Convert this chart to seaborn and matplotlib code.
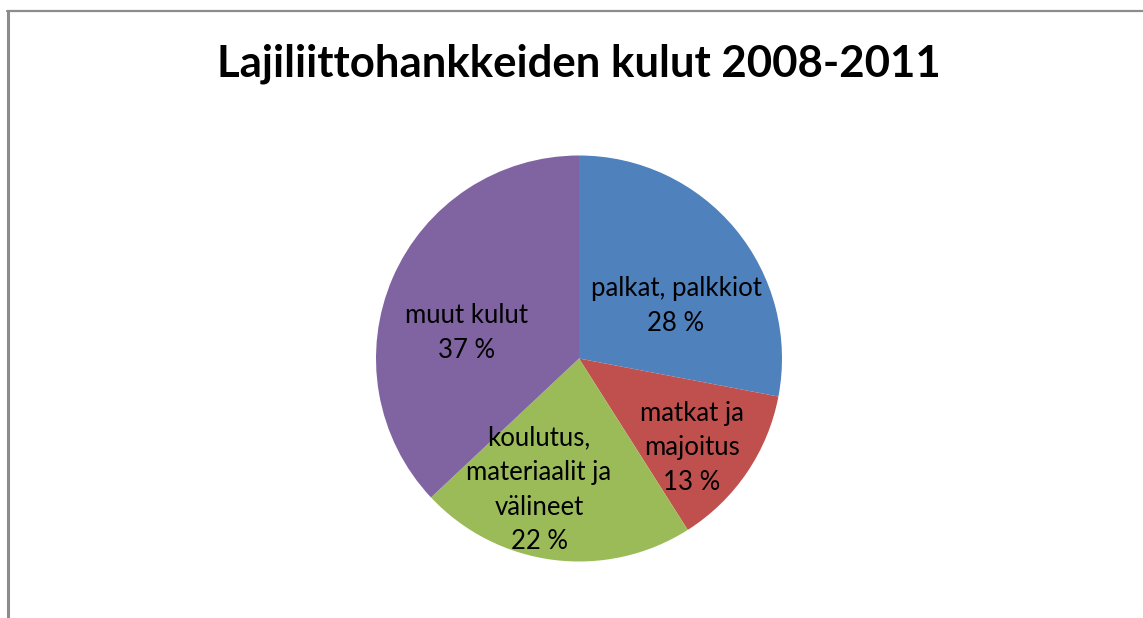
import matplotlib
matplotlib.use("Agg")
import matplotlib.pyplot as plt
import seaborn as sns
from matplotlib.lines import Line2D

sns.set_theme(style="white")
plt.rcParams['font.family'] = ['Lato', 'DejaVu Sans']

# Data
categories = ["palkat, palkkiot", "matkat ja\nmajoitus", "koulutus,\nmateriaalit ja\nvälineet", "muut kulut"]
shares = [28, 13, 22, 37]
title = "Lajiliittohankkeiden kulut 2008-2011"

colors = ["#4F81BD", "#C0504D", "#9BBB59", "#8064A2"]
# label anchor positions inside the pie (relative to radius 1)
label_pos = [(0.478, 0.258), (0.557, -0.44), (-0.197, -0.648), (-0.552, 0.126)]

W, H = 1143, 618
fig = plt.figure(figsize=(W / 100, H / 100), dpi=100)
fig.patch.set_facecolor("white")

cx, cy, r = 579, 358.5, 203
ax = fig.add_axes([(cx - r) / W, (H - cy - r) / H, 2 * r / W, 2 * r / H])
ax.pie(shares, colors=colors, startangle=90, counterclock=False, radius=1,
       wedgeprops=dict(linewidth=0))
ax.set_xlim(-1, 1)
ax.set_ylim(-1, 1)
ax.set_aspect("auto")
ax.axis("off")

for cat, val, (x, y) in zip(categories, shares, label_pos):
    ax.text(x, y, f"{cat}\n{val} %", ha="center", va="center", fontsize=18.5,
            color="black", linespacing=1.48)

fig.text(579 / W, 1 - 64 / H, title, ha="center", va="center", fontsize=31.5,
         fontweight="bold", color="black")

# chart frame (top and left edges visible)
fig.add_artist(Line2D([8 / W, 8 / W], [0, 1 - 10.5 / H], transform=fig.transFigure,
                      color="#8c8c8c", linewidth=2.2))
fig.add_artist(Line2D([7 / W, 1], [1 - 10.5 / H, 1 - 10.5 / H], transform=fig.transFigure,
                      color="#8c8c8c", linewidth=1.6))

fig.savefig("out.png", dpi=100, facecolor="white")
